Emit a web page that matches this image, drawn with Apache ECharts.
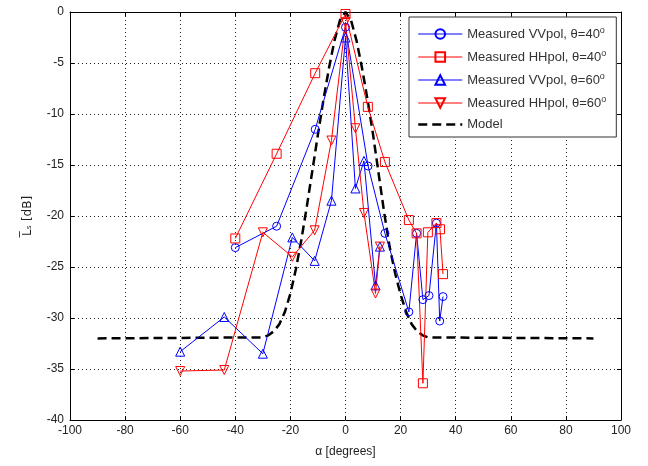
<!DOCTYPE html>
<html><head><meta charset="utf-8">
<script src="https://cdn.jsdelivr.net/npm/echarts@6/dist/echarts.min.js"></script>
<style>html,body{margin:0;padding:0;background:#fff}#c{width:648px;height:466px}</style>
</head><body><div id="c"></div>
<script>
var vv40X = [-40, -25, -11, 0, 8.2, 14.3, 23, 25.8, 28.1, 30.3, 33, 34.2, 35.4];
var vv40Y = [-23.1, -21.0, -11.5, -1.5, -15.1, -21.7, -29.4, -21.7, -28.2, -27.8, -20.7, -30.3, -27.9];
var hh40X = [-40, -25, -11, 0, 8.1, 14.3, 23, 25.8, 28.1, 29.9, 33, 34.3, 35.4];
var hh40Y = [-22.2, -13.9, -6.0, -0.2, -9.3, -14.7, -20.4, -21.7, -36.4, -21.6, -20.7, -21.3, -25.7];
var vv60X = [-60, -44, -30, -19.3, -11.2, -5.1, 0, 3.6, 6.7, 10.9, 12.5];
var vv60Y = [-33.3, -29.9, -33.5, -22.1, -24.4, -18.5, -2.5, -17.3, -14.6, -26.8, -23.0];
var hh60X = [-60, -44, -30, -19.3, -11.2, -5.1, 0, 3.6, 6.7, 10.9, 12.5];
var hh60Y = [-35.2, -35.1, -21.6, -24.0, -21.4, -12.6, -1.0, -11.4, -19.7, -27.6, -23.0];
var modelX = [-90, -30, -28, -26, -24, -22, -20, -18, -16, -14, -12, -10, -8, -6, -4, -2, 0, 2, 4, 6, 8, 10, 12, 14, 16, 18, 20, 22, 24, 26, 28, 30, 90];
var modelY = [-32, -31.9, -31.7, -31.3, -30.6, -29.4, -27.6, -25.2, -22.3, -19, -15.5, -12, -8.6, -5.5, -2.8, -0.8, 0, -0.8, -2.8, -5.5, -8.6, -12, -15.8, -19.6, -23, -25.6, -27.7, -29.4, -30.6, -31.3, -31.7, -31.9, -32];
var xTicks = [-100, -80, -60, -40, -20, 0, 20, 40, 60, 80, 100];
var yTicks = [0, -5, -10, -15, -20, -25, -30, -35, -40];
var names = ['Measured VVpol, θ=40', 'Measured HHpol, θ=40', 'Measured VVpol, θ=60', 'Measured HHpol, θ=60', 'Model'];

function pairs(xs, ys) { return xs.map(function (x, i) { return [x, ys[i]]; }); }
var FONT = 'Liberation Sans';
var grid = {left: 70, right: 27, top: 12, bottom: 46};
var gridLine = {show: true, lineStyle: {color: '#222', type: [1, 3], width: 1}};
function meas(name, xs, ys, color, symbol, size, rot) {
  return {
    name: name, type: 'line', data: pairs(xs, ys), symbol: symbol, symbolSize: size, symbolRotate: rot || 0,
    showAllSymbol: true, lineStyle: {color: color, width: 1},
    itemStyle: {color: 'rgba(255,255,255,0)', borderColor: color, borderWidth: 1},
    emphasis: {disabled: true}, z: 3
  };
}
var legendData = names.map(function (n) {
  return n === 'Model' ? {name: n, lineStyle: {width: 2.5}} : {name: n, lineStyle: {width: 1}};
});
var chart = echarts.init(document.getElementById('c'), null, {renderer: 'canvas'});
chart.setOption({
  animation: false,
  backgroundColor: '#fff',
  grid: grid,
  legend: {
    left: 409, top: 17, width: 190, orient: 'vertical', backgroundColor: '#fff',
    borderColor: '#333', borderWidth: 1, padding: [9, 10, 6, 8], itemGap: 8.5,
    itemWidth: 44, itemHeight: 12,
    data: legendData,
    formatter: function (n) { return n === 'Model' ? n : '{t|' + n + '}{s|o}'; },
    textStyle: {fontFamily: FONT, fontSize: 13, color: '#333',
      rich: {t: {fontFamily: FONT, fontSize: 13, color: '#333'},
             s: {fontFamily: FONT, fontSize: 9, color: '#333', verticalAlign: 'top', padding: [0, 0, 7, 0]}}}
  },
  xAxis: [{
    type: 'value', min: -100, max: 100, interval: 20,
    name: 'α [degrees]', nameLocation: 'middle', nameGap: 26,
    nameTextStyle: {fontFamily: FONT, fontSize: 12, color: '#222'},
    axisLine: {onZero: false, lineStyle: {color: '#000'}},
    axisTick: {inside: true, length: 4, lineStyle: {color: '#000'}},
    axisLabel: {fontFamily: FONT, fontSize: 12, color: '#222', margin: 5},
    splitLine: gridLine
  }, {
    type: 'value', min: -100, max: 100, interval: 20, position: 'top',
    axisLine: {onZero: false, lineStyle: {color: '#000'}},
    axisTick: {inside: true, length: 4, lineStyle: {color: '#000'}},
    axisLabel: {show: false}, splitLine: {show: false}
  }],
  yAxis: [{
    type: 'value', min: -40, max: 0, interval: 5,
    name: 'L\u0305\u209B [dB]', nameLocation: 'middle', nameGap: 36, nameRotate: 90,
    nameTextStyle: {fontFamily: 'DejaVu Sans', fontSize: 12, color: '#222'},
    axisLine: {onZero: false, lineStyle: {color: '#000'}},
    axisTick: {inside: true, length: 4, lineStyle: {color: '#000'}},
    axisLabel: {fontFamily: FONT, fontSize: 12, color: '#222', margin: 6},
    splitLine: gridLine
  }, {
    type: 'value', min: -40, max: 0, interval: 5, position: 'right',
    axisLine: {onZero: false, lineStyle: {color: '#000'}},
    axisTick: {inside: true, length: 4, lineStyle: {color: '#000'}},
    axisLabel: {show: false}, splitLine: {show: false}
  }],
  series: [
    meas(names[0], vv40X, vv40Y, '#0000ff', 'circle', 8),
    meas(names[1], hh40X, hh40Y, '#ff0000', 'rect', 9),
    meas(names[2], vv60X, vv60Y, '#0000ff', 'triangle', 9),
    meas(names[3], hh60X, hh60Y, '#ff0000', 'triangle', 9, 180),
    {name: names[4], type: 'line', data: pairs(modelX, modelY), symbol: 'none', smooth: false,
     lineStyle: {color: '#000', width: 2.5, type: [9, 5]},
     itemStyle: {color: 'rgba(0,0,0,0)', borderWidth: 0}, z: 2,
     emphasis: {disabled: true}}
  ]
});
</script></body></html>
